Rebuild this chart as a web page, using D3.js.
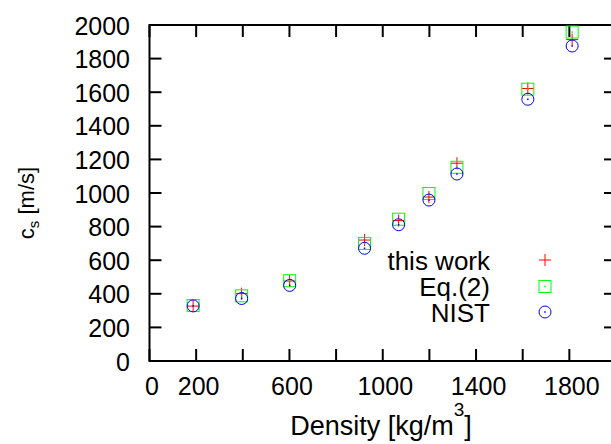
<!DOCTYPE html>
<html>
<head>
<meta charset="utf-8">
<script src="https://cdn.jsdelivr.net/npm/d3@7"></script>
<style>
  html, body { margin: 0; padding: 0; background: #fff; }
  svg { display: block; }
  text { font-family: "Liberation Sans", Arial, Helvetica, sans-serif; fill: #000; }
</style>
</head>
<body>
<svg id="chart" width="611" height="444"></svg>
<script>
// Density of the fluid [kg/m^3]
const density = [187, 395, 601, 922, 1068, 1198, 1318, 1622, 1812];
// Speed of sound c_s [m/s] for each source
const thisWork = [327, 401, 476, 720, 836, 976, 1177, 1622, 1913];
const eq2      = [330, 388, 478, 700, 844, 997, 1153, 1618, 1958];
const nist     = [328, 372, 450, 671, 811, 958, 1113, 1558, 1875];

const xTicks = [0, 200, 400, 600, 800, 1000, 1200, 1400, 1600, 1800, 2000];
const xTickLabels = [0, 200, 600, 1000, 1400, 1800];
const yTicks = [0, 200, 400, 600, 800, 1000, 1200, 1400, 1600, 1800, 2000];

const seriesNames = ["this work", "Eq.(2)", "NIST"];

const svg = d3.select("#chart");

const plotL = 149.5, plotR = 616, plotT = 25, plotB = 361;
const x = d3.scaleLinear().domain([0, 2000]).range([plotL, plotR]);
const y = d3.scaleLinear().domain([0, 2000]).range([plotB, plotT]);

const tickLen = 12;
const frame = svg.append("g").attr("stroke", "#000").attr("stroke-width", 2).attr("fill", "none");

// tick marks on all four sides, pointing inward
xTicks.forEach(v => {
  frame.append("line").attr("x1", x(v)).attr("x2", x(v)).attr("y1", plotB).attr("y2", plotB - tickLen);
  frame.append("line").attr("x1", x(v)).attr("x2", x(v)).attr("y1", plotT).attr("y2", plotT + tickLen);
});
yTicks.forEach(v => {
  frame.append("line").attr("x1", plotL).attr("x2", plotL + tickLen).attr("y1", y(v)).attr("y2", y(v));
  frame.append("line").attr("x1", plotR).attr("x2", plotR - tickLen).attr("y1", y(v)).attr("y2", y(v));
});
// border
frame.append("rect").attr("x", plotL).attr("y", plotT).attr("width", plotR - plotL).attr("height", plotB - plotT);

// tick labels
const tickFont = 25;
svg.append("g").selectAll("text").data(xTickLabels).join("text")
  .attr("x", d => x(d) + 2.5).attr("y", 395)
  .attr("text-anchor", "middle").attr("font-size", tickFont)
  .text(d => d);
svg.append("g").selectAll("text").data(yTicks).join("text")
  .attr("x", 130).attr("y", d => y(d) + 9.5)
  .attr("text-anchor", "end").attr("font-size", tickFont)
  .text(d => d);

// axis titles
const xt = svg.append("text").attr("x", 381).attr("y", 435)
  .attr("text-anchor", "middle").attr("font-size", 27);
xt.append("tspan").text("Density [kg/m");
xt.append("tspan").attr("dy", -19).attr("font-size", 19).text("3");
xt.append("tspan").attr("dy", 19).text("]");

const yt = svg.append("text").attr("transform", "translate(34,203) rotate(-90)")
  .attr("text-anchor", "middle").attr("font-size", 22);
yt.append("tspan").text("c");
yt.append("tspan").attr("dy", 5).attr("font-size", 15).text("s");
yt.append("tspan").attr("dy", -5).text(" [m/s]");

// point symbols
const half = 6;
function drawCross(g, cx, cy) {
  g.append("path").attr("d", `M${cx - half},${cy}H${cx + half}M${cx},${cy - half}V${cy + half}`)
    .attr("stroke", "#ff0000").attr("stroke-width", 1).attr("fill", "none");
}
function drawSquare(g, cx, cy) {
  g.append("rect").attr("x", cx - half).attr("y", cy - half).attr("width", 2 * half).attr("height", 2 * half)
    .attr("stroke", "#00ff00").attr("stroke-width", 1).attr("fill", "none");
  g.append("rect").attr("x", cx - 0.75).attr("y", cy - 0.75).attr("width", 1.5).attr("height", 1.5).attr("fill", "#00ff00");
}
function drawCircle(g, cx, cy) {
  g.append("circle").attr("cx", cx).attr("cy", cy).attr("r", half)
    .attr("stroke", "#0000ff").attr("stroke-width", 1).attr("fill", "none");
  g.append("rect").attr("x", cx - 0.75).attr("y", cy - 0.75).attr("width", 1.5).attr("height", 1.5).attr("fill", "#0000ff");
}
const drawers = [drawCross, drawSquare, drawCircle];
const series = [thisWork, eq2, nist];

const pts = svg.append("g");
series.forEach((vals, i) => {
  vals.forEach((v, j) => drawers[i](pts, x(density[j]), y(v)));
});

// key
const key = svg.append("g");
const keyRows = [260, 286.5, 312];
seriesNames.forEach((name, i) => {
  key.append("text").attr("x", 490).attr("y", keyRows[i] + 9.5)
    .attr("text-anchor", "end").attr("font-size", 26).text(name);
  drawers[i](key, 545, keyRows[i]);
});
</script>
</body>
</html>
